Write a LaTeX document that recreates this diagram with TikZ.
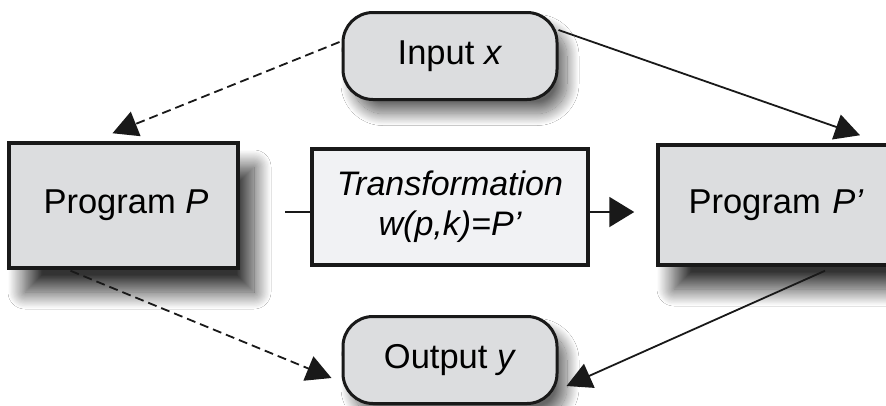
\documentclass[tikz,border=0pt]{standalone}
\usepackage{fontspec}
\setmainfont{Liberation Sans}
\usetikzlibrary{arrows.meta,calc,shadows.blur}
\definecolor{boxgray}{HTML}{DCDDDF}
\definecolor{lightbox}{HTML}{F1F2F4}
\begin{document}
\begin{tikzpicture}[x=1pt,y=-1pt,
  txt/.style={font=\fontsize{34.5}{40}\selectfont},
  pill/.style={draw=black!90, line width=3pt, fill=boxgray, rounded corners=30pt,
    minimum width=214pt, minimum height=87pt, inner sep=0pt, txt,
    blur shadow={shadow xshift=10pt, shadow yshift=-14pt, shadow blur radius=12pt,
      shadow blur steps=30, shadow opacity=60}},
  progbox/.style={draw=black!90, line width=3.5pt, fill=boxgray, inner sep=0pt, txt,
    blur shadow={shadow xshift=16pt, shadow yshift=-24pt, shadow blur radius=17pt,
      shadow blur steps=30, shadow opacity=80}},
  transbox/.style={draw=black!90, line width=3.5pt, fill=lightbox, inner sep=0pt,
    align=center, font=\fontsize{34}{40}\selectfont\itshape},
  con/.style={line width=1.8pt, draw=black!90, -{Triangle[length=25pt,width=26pt]}},
  dcon/.style={con, dash pattern=on 9pt off 5pt},
  plain/.style={line width=2pt, draw=black!90},
  tcon/.style={line width=2pt, draw=black!90, -{Triangle[length=25pt,width=30pt]}}
]
\useasboundingbox (0,0) rectangle (886,405);
\fill[white] (0,0) rectangle (886,405);

\node[pill] (inp) at (450,56) {Input \textit{x}};
\node[progbox, minimum width=229pt, minimum height=125pt] (prog) at (123.5,205.5) {\hspace*{5pt}Program \textit{P}};
\node[transbox, minimum width=276pt, minimum height=116pt] (trans) at (450,207) {Transformation\\w(p,k)=P’};
\node[progbox, minimum width=236pt, minimum height=120pt, text width=236pt, align=center] (progp) at (776,205) {Program \textit{P’}};
\node[pill] (out) at (450,360) {Output \textit{y}};

\coordinate (a1) at ($(inp.north west)+(-2,31)$);
\coordinate (b1) at ($(prog.north)+(-11,-8)$);
\draw[dcon] (a1) -- (b1);

\coordinate (a2) at ($(inp.north east)+(0,19)$);
\coordinate (b2) at ($(progp.north)+(84,-8)$);
\draw[con] (a2) -- (b2);

\coordinate (a3) at ($(trans.west)+(-25,5)$);
\draw[plain] (a3) -- (a3 -| trans.west);

\coordinate (a4) at ($(trans.east)+(0,5)$);
\coordinate (b4) at ($(progp.west)+(-22,7)$);
\draw[tcon] (a4) -- (b4);

\coordinate (a5) at ($(prog.south)+(-53,1)$);
\coordinate (b5) at ($(out.west)+(-10,18)$);
\draw[dcon] (a5) -- (b5);

\coordinate (a6) at ($(progp.south)+(49,4)$);
\coordinate (b6) at ($(out.east)+(8,26)$);
\draw[con] (a6) -- (b6);
\end{tikzpicture}
\end{document}
